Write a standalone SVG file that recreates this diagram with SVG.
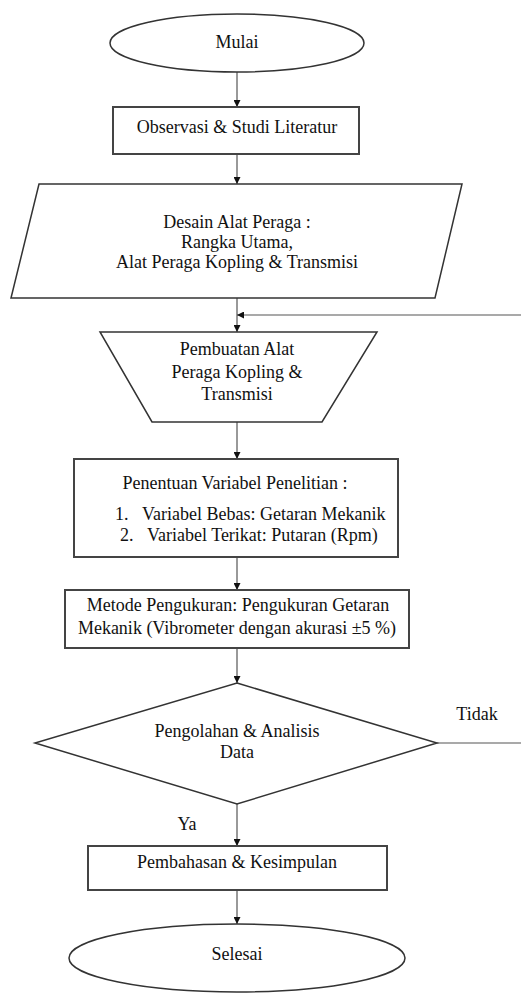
<svg xmlns="http://www.w3.org/2000/svg" width="521" height="994" viewBox="0 0 521 994">
<style>
.s{fill:#fff;stroke:#333;stroke-width:1.5}
.b{fill:#fff;stroke:#444;stroke-width:2}
.t{font-family:"Liberation Serif","Times New Roman",serif;font-size:18px;fill:#111;text-anchor:middle}
.l{text-anchor:start}
.c{fill:none;stroke:#555;stroke-width:1.2}
</style>
<defs>
<marker id="ah" viewBox="0 0 10 10" refX="10" refY="5" markerWidth="7" markerHeight="7" markerUnits="userSpaceOnUse" orient="auto">
<path d="M0,0 L10,5 L0,10 Z" fill="#111"/>
</marker>
</defs>
<rect width="521" height="994" fill="#fff"/>
<g id="connectors">
<line class="c" x1="237" y1="72" x2="237" y2="107" marker-end="url(#ah)"/>
<line class="c" x1="237" y1="154" x2="237" y2="184" marker-end="url(#ah)"/>
<line class="c" x1="237" y1="298" x2="237" y2="332" marker-end="url(#ah)"/>
<line class="c" x1="521" y1="315" x2="237" y2="315" marker-end="url(#ah)"/>
<line class="c" x1="237" y1="422" x2="237" y2="459" marker-end="url(#ah)"/>
<line class="c" x1="237" y1="557" x2="237" y2="590" marker-end="url(#ah)"/>
<line class="c" x1="237" y1="648" x2="237" y2="683" marker-end="url(#ah)"/>
<line class="c" x1="237" y1="804" x2="237" y2="846" marker-end="url(#ah)"/>
<line class="c" x1="237" y1="890" x2="237" y2="924" marker-end="url(#ah)"/>
<line class="c" x1="437" y1="743" x2="521" y2="743" stroke-width="2"/>
<text class="t" x="477" y="720">Tidak</text>
<text class="t" x="187" y="830">Ya</text>
</g>
<g id="mulai">
<ellipse class="s" cx="237" cy="43" rx="127" ry="29"/>
<text class="t" x="237" y="48">Mulai</text>
</g>
<g id="observasi">
<rect class="b" x="113" y="107" width="246" height="47"/>
<text class="t" x="237" y="133">Observasi &amp; Studi Literatur</text>
</g>
<g id="desain">
<polygon class="s" points="39,184 462,184 435,298 11,298"/>
<text class="t" x="237" y="228">Desain Alat Peraga :</text>
<text class="t" x="237" y="248">Rangka Utama,</text>
<text class="t" x="237" y="268">Alat Peraga Kopling &amp; Transmisi</text>
</g>
<g id="pembuatan">
<polygon class="s" points="100,332 377,332 322,422 152,422"/>
<text class="t" x="237" y="355">Pembuatan Alat</text>
<text class="t" x="237" y="378">Peraga Kopling &amp;</text>
<text class="t" x="237" y="400">Transmisi</text>
</g>
<g id="penentuan">
<rect class="b" x="74" y="459" width="324" height="98"/>
<text class="t" x="235" y="489">Penentuan Variabel Penelitian :</text>
<text class="t l" x="115" y="520">1.</text>
<text class="t l" x="142" y="520">Variabel Bebas: Getaran Mekanik</text>
<text class="t l" x="120" y="541">2.</text>
<text class="t l" x="147" y="541">Variabel Terikat: Putaran (Rpm)</text>
</g>
<g id="metode">
<rect class="b" x="65" y="590" width="344" height="58"/>
<text class="t" x="238" y="611">Metode Pengukuran: Pengukuran Getaran</text>
<text class="t" x="237" y="634">Mekanik (Vibrometer dengan akurasi ±5 %)</text>
</g>
<g id="pengolahan">
<polygon class="s" points="237,683 437,743 237,804 35,743"/>
<text class="t" x="237" y="737">Pengolahan &amp; Analisis</text>
<text class="t" x="237" y="758">Data</text>
</g>
<g id="pembahasan">
<rect class="b" x="88" y="846" width="299" height="44"/>
<text class="t" x="237" y="868">Pembahasan &amp; Kesimpulan</text>
</g>
<g id="selesai">
<ellipse class="s" cx="237" cy="958" rx="168" ry="34"/>
<text class="t" x="237" y="960">Selesai</text>
</g>
</svg>
